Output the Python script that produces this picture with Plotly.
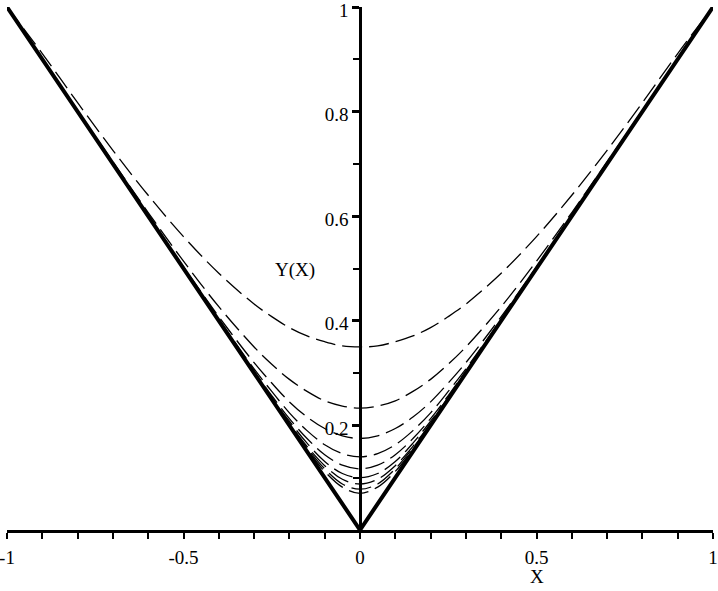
import plotly.graph_objects as go

# x sample positions
x_vals = [-1, -0.9, -0.8, -0.7, -0.6, -0.5, -0.4, -0.3, -0.25, -0.2, -0.15, -0.1, -0.05, 0,
          0.05, 0.1, 0.15, 0.2, 0.25, 0.3, 0.4, 0.5, 0.6, 0.7, 0.8, 0.9, 1]

# limiting V-shaped solution
v_x = [-1, 0, 1]
v_y = [1, 0, 1]

# dashed family of curves
curve1 = [1.0, 0.911, 0.817, 0.726, 0.640, 0.561, 0.491, 0.432, 0.408, 0.387, 0.371, 0.360, 0.352, 0.350,
          0.352, 0.360, 0.371, 0.387, 0.408, 0.432, 0.491, 0.561, 0.640, 0.726, 0.817, 0.911, 1.0]
curve2 = [1.0, 0.901, 0.802, 0.704, 0.607, 0.514, 0.427, 0.350, 0.317, 0.288, 0.265, 0.247, 0.237, 0.233,
          0.237, 0.247, 0.265, 0.288, 0.317, 0.350, 0.427, 0.514, 0.607, 0.704, 0.802, 0.901, 1.0]
curve3 = [1.0, 0.900, 0.800, 0.700, 0.601, 0.503, 0.408, 0.320, 0.281, 0.245, 0.216, 0.194, 0.180, 0.175,
          0.180, 0.194, 0.216, 0.245, 0.281, 0.320, 0.408, 0.503, 0.601, 0.700, 0.800, 0.900, 1.0]
curve4 = [1.0, 0.9, 0.8, 0.7, 0.600, 0.501, 0.403, 0.308, 0.265, 0.224, 0.190, 0.163, 0.146, 0.140,
          0.146, 0.163, 0.190, 0.224, 0.265, 0.308, 0.403, 0.501, 0.600, 0.7, 0.8, 0.9, 1.0]
curve5 = [1.0, 0.9, 0.8, 0.7, 0.6, 0.500, 0.401, 0.304, 0.257, 0.213, 0.175, 0.144, 0.124, 0.117,
          0.124, 0.144, 0.175, 0.213, 0.257, 0.304, 0.401, 0.500, 0.6, 0.7, 0.8, 0.9, 1.0]
curve6 = [1.0, 0.9, 0.8, 0.7, 0.6, 0.5, 0.400, 0.302, 0.253, 0.208, 0.166, 0.131, 0.108, 0.100,
          0.108, 0.131, 0.166, 0.208, 0.253, 0.302, 0.400, 0.5, 0.6, 0.7, 0.8, 0.9, 1.0]
curve7 = [1.0, 0.9, 0.8, 0.7, 0.6, 0.5, 0.400, 0.301, 0.252, 0.204, 0.160, 0.123, 0.097, 0.088,
          0.097, 0.123, 0.160, 0.204, 0.252, 0.301, 0.400, 0.5, 0.6, 0.7, 0.8, 0.9, 1.0]
curve8 = [1.0, 0.9, 0.8, 0.7, 0.6, 0.5, 0.400, 0.300, 0.251, 0.202, 0.157, 0.117, 0.088, 0.078,
          0.088, 0.117, 0.157, 0.202, 0.251, 0.300, 0.400, 0.5, 0.6, 0.7, 0.8, 0.9, 1.0]
curve9 = [1.0, 0.9, 0.8, 0.7, 0.6, 0.5, 0.400, 0.300, 0.250, 0.201, 0.154, 0.112, 0.082, 0.070,
          0.082, 0.112, 0.154, 0.201, 0.250, 0.300, 0.400, 0.5, 0.6, 0.7, 0.8, 0.9, 1.0]

curves = [curve1, curve2, curve3, curve4, curve5, curve6, curve7, curve8, curve9]

x_tickvals = [-1, -0.5, 0, 0.5, 1]
x_ticktext = ["-1", "-0.5", "0", "0.5", "1"]
x_minor = [-0.9, -0.8, -0.7, -0.6, -0.4, -0.3, -0.2, -0.1, 0.1, 0.2, 0.3, 0.4, 0.6, 0.7, 0.8, 0.9]
y_tickvals = [0.2, 0.4, 0.6, 0.8, 1]
y_ticktext = ["0.2", "0.4", "0.6", "0.8", "1"]
y_minor = [0.1, 0.3, 0.5, 0.7, 0.9]

FONT = "Liberation Serif"
FS = 19

fig = go.Figure()
for c in curves:
    fig.add_trace(go.Scatter(x=x_vals, y=c, mode="lines",
                             line=dict(color="black", width=1.3, dash="20px,7px", shape="spline", smoothing=1),
                             showlegend=False, hoverinfo="skip", cliponaxis=True))
fig.add_trace(go.Scatter(x=v_x, y=v_y, mode="lines",
                         line=dict(color="black", width=4),
                         showlegend=False, hoverinfo="skip"))

fig.update_layout(
    width=718, height=591,
    margin=dict(l=7, r=5, t=7, b=61, autoexpand=False),
    paper_bgcolor="white", plot_bgcolor="white",
    font=dict(family=FONT, size=FS, color="black"),
    xaxis=dict(range=[-1, 1], showgrid=False, zeroline=False, automargin=False,
               showline=True, linewidth=3, linecolor="black",
               tickmode="array", tickvals=x_tickvals, ticktext=x_ticktext,
               ticks="outside", ticklen=6, tickwidth=2, tickcolor="black",
               ticklabelstandoff=2, ticklabeloverflow="allow",
               minor=dict(tickmode="array", tickvals=x_minor, ticks="outside",
                          ticklen=6, tickwidth=2, tickcolor="black", showgrid=False),
               tickfont=dict(family=FONT, size=FS)),
    yaxis=dict(range=[0, 1], showgrid=False, zeroline=False, automargin=False,
               anchor="free", position=0.5, side="left",
               showline=True, linewidth=2.5, linecolor="black",
               tickmode="array", tickvals=y_tickvals, ticktext=y_ticktext,
               ticks="outside", ticklen=7, tickwidth=2.5, tickcolor="black",
               ticklabeloverflow="allow", ticklabelshift=3,
               minor=dict(tickmode="array", tickvals=y_minor, ticks="outside",
                          ticklen=6, tickwidth=2, tickcolor="black", showgrid=False),
               tickfont=dict(family=FONT, size=FS)),
    annotations=[
        dict(x=-0.184, y=0.497, xref="x", yref="y", text="Y(X)", showarrow=False,
             font=dict(family=FONT, size=FS)),
        dict(x=0.5, y=-0.088, xref="x", yref="paper", yanchor="middle", text="X", showarrow=False,
             font=dict(family=FONT, size=FS)),
    ],
)

fig.write_html("out.html", config={"displayModeBar": False},
               post_script="document.body.style.margin='0px';document.body.style.padding='0px';")
